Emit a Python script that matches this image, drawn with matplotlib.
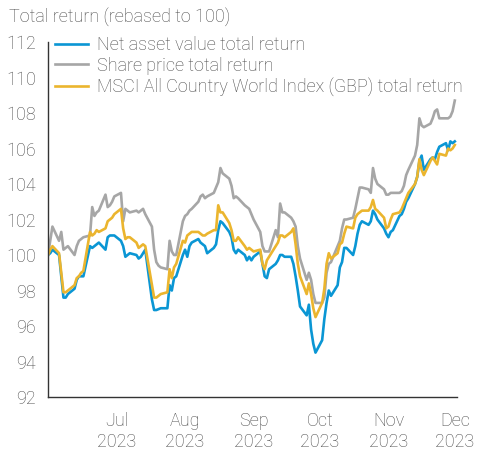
import pandas as pd
import matplotlib
matplotlib.use("Agg")
import matplotlib.pyplot as plt

plt.rcParams['font.family'] = ['Roboto', 'DejaVu Sans']

## Business days from end of May to start of December 2023
dates = pd.bdate_range("2023-05-31", "2023-12-01")

nav_tr = [
    100.0, 100.1, 100.3, 100.0, 98.8, 97.6, 97.6, 97.8, 98.1, 98.6,
    98.8, 98.8, 98.8, 100.5, 100.4, 100.5, 100.6, 100.7, 100.3, 101.0,
    101.1, 101.1, 101.1, 100.8, 100.5, 99.9, 100.0, 100.1, 100.0, 99.8,
    99.9, 100.1, 100.3, 97.5, 96.9, 96.9, 96.95, 97.0, 97.0, 98.3,
    98.0, 98.7, 98.8, 100.0, 100.3, 99.9, 100.5, 100.7, 100.9, 100.7,
    100.6, 100.5, 100.1, 100.4, 100.6, 101.4, 101.9, 101.8, 101.3, 101.0,
    100.3, 100.1, 100.3, 100.0, 99.7, 99.9, 99.7, 99.9, 100.2, 99.5,
    98.8, 98.7, 99.2, 99.5, 99.7, 100.0, 100.0, 99.9, 99.9, 99.5,
    98.8, 98.0, 97.1, 96.6, 97.2, 95.8, 95.0, 94.5, 95.2, 96.4,
    97.3, 98.0, 97.7, 98.3, 99.3, 99.6, 100.4, 100.4, 100.0, 100.5,
    101.2, 101.7, 101.9, 101.7, 101.9, 102.5, 102.3, 102.0, 101.5, 101.2,
    101.0, 101.3, 101.4, 102.2, 102.3, 102.6, 103.0, 103.2, 104.0, 104.4,
    105.3, 105.6, 104.8, 105.4, 105.5, 105.4, 105.8, 106.1, 106.3, 105.9,
    106.4, 106.3, 106.4,
]

share_tr = [
    100.0, 100.8, 101.6, 100.8, 101.3, 100.3, 100.4, 100.5, 100.0, 100.5,
    100.8, 100.9, 101.0, 101.1, 102.7, 102.2, 102.4, 102.5, 103.4, 102.7,
    102.8, 103.0, 103.3, 103.5, 101.9, 102.6, 102.5, 102.4, 102.5, 102.4,
    102.5, 102.6, 102.3, 101.6, 100.3, 99.6, 99.4, 99.3, 99.2, 100.8,
    100.2, 100.0, 100.0, 101.9, 102.2, 102.3, 102.5, 102.6, 103.0, 103.3,
    103.4, 103.2, 103.3, 103.5, 103.8, 104.1, 104.9, 104.6, 104.3, 103.9,
    103.2, 103.3, 103.2, 102.8, 102.7, 102.6, 102.3, 102.0, 101.3, 100.5,
    100.2, 100.2, 100.2, 101.4, 101.0, 102.9, 102.4, 102.4, 102.1, 101.9,
    101.6, 100.5, 99.8, 98.6, 99.0, 98.6, 97.8, 97.3, 97.3, 97.6,
    99.0, 99.5, 99.6, 100.5, 100.8, 101.5, 102.0, 102.0, 102.1, 102.6,
    103.2, 103.8, 103.8, 103.7, 103.5, 104.9, 104.3, 104.0, 103.7, 103.4,
    103.4, 103.5, 103.5, 103.5, 103.6, 103.9, 104.5, 104.8, 105.6, 106.2,
    107.7, 107.3, 107.2, 107.4, 107.7, 108.1, 108.2, 107.7, 107.7, 107.7,
    107.8, 108.1, 108.7,
]

msci_tr = [
    100.0, 100.3, 100.5, 100.1, 99.0, 97.9, 97.9, 98.0, 98.3, 98.7,
    98.8, 99.0, 99.1, 101.3, 101.1, 101.2, 101.4, 101.3, 101.5, 101.9,
    102.0, 102.1, 102.3, 102.6, 101.5, 100.9, 101.0, 101.0, 100.7, 100.4,
    100.5, 100.6, 100.5, 98.3, 97.6, 97.6, 97.7, 97.8, 97.9, 99.2,
    98.7, 99.3, 99.5, 100.8, 100.7, 101.1, 101.2, 101.3, 101.3, 101.2,
    101.1, 101.1, 101.2, 101.4, 101.4, 102.8, 102.4, 102.4, 101.8, 101.4,
    100.8, 100.8, 101.0, 100.5, 100.3, 100.4, 100.3, 100.2, 100.3, 99.5,
    99.2, 99.7, 99.9, 100.5, 100.7, 101.1, 101.1, 101.0, 101.3, 101.5,
    100.6, 99.5, 98.8, 97.8, 98.4, 97.8, 97.0, 96.5, 97.3, 98.1,
    99.5, 100.1, 99.8, 100.1, 100.6, 100.7, 101.2, 101.6, 101.5, 102.1,
    102.3, 102.4, 102.5, 102.5, 102.7, 103.1, 102.6, 102.5, 102.1, 101.5,
    101.6, 102.0, 102.3, 102.4, 102.6, 102.9, 103.2, 103.5, 104.0, 104.4,
    105.4, 104.8, 104.5, 105.3, 105.5, 105.3, 105.1, 105.7, 105.6, 106.0,
    105.9, 106.0, 106.2,
]

labels = ["Net asset value total return",
          "Share price total return",
          "MSCI All Country World Index (GBP) total return"]
colors = ["#0A96D4", "#A6A6A6", "#EBB52E"]

tick_dates = pd.to_datetime(["2023-07-01", "2023-08-01", "2023-09-01",
                             "2023-10-01", "2023-11-01", "2023-12-01"])
tick_labels = [d.strftime("%b\n%Y") for d in tick_dates]

text_col = "#4a4a4a"
fsize = 13

fig = plt.figure(figsize=(4.8, 4.53), dpi=100)
ax = fig.add_axes([48/480, 1 - 397/453, 409/480, 355/453])

for series, lab, col in zip([nav_tr, share_tr, msci_tr], labels, colors):
    ax.plot(dates, series, color=col, lw=1.9, label=lab)

ax.set_xlim(dates[0], dates[-1] + pd.Timedelta(days=1))
ax.set_ylim(92, 112)
ax.set_yticks(range(92, 113, 2))
ax.set_xticks(tick_dates)
ax.set_xticklabels(tick_labels, linespacing=1.2)

ax.tick_params(axis="both", length=0, labelsize=fsize, labelcolor=text_col)
ax.tick_params(axis="y", pad=8.5)
ax.tick_params(axis="x", pad=11)
for lbl in ax.get_xticklabels() + ax.get_yticklabels():
    lbl.set_fontweight("light")

for side in ["top", "right"]:
    ax.spines[side].set_visible(False)
for side in ["left", "bottom"]:
    ax.spines[side].set_color("#333333")
    ax.spines[side].set_linewidth(1.0)

leg = ax.legend(loc="upper left", bbox_to_anchor=(55/480, 1 - 36/453),
                bbox_transform=fig.transFigure, frameon=False,
                fontsize=fsize, handlelength=1.85, handletextpad=0.45,
                labelspacing=0.15, borderpad=0, borderaxespad=0)
for t in leg.get_texts():
    t.set_color(text_col)
    t.set_fontweight("light")

fig.text(9/480, 1 - 17/453, "Total return (rebased to 100)", fontsize=fsize,
         color=text_col, fontweight="light", va="center", ha="left")

fig.savefig("out.png", dpi=100)
